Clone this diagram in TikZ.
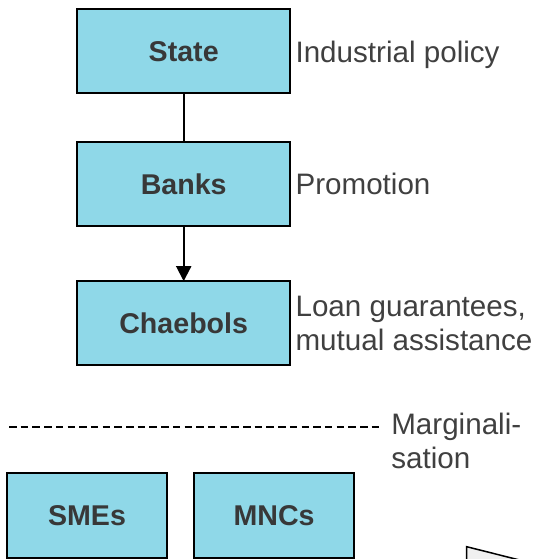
\documentclass[tikz,border=0pt]{standalone}
\usepackage{fontspec}
\setmainfont{Liberation Sans}
\usetikzlibrary{arrows.meta}
\usetikzlibrary{positioning}
\definecolor{boxcyan}{RGB}{143,216,232}
\definecolor{boxtext}{RGB}{56,56,56}
\definecolor{notetext}{RGB}{64,64,64}
\tikzset{
  org node/.style={
    rectangle,
    draw,
    line width=2pt,
    fill=boxcyan,
    minimum width=212.7pt,
    minimum height=84.3pt,
    inner sep=0pt,
    outer sep=0pt,
    font=\bfseries\fontsize{28.6}{34.3}\selectfont,
    text=boxtext,
  }
}
\tikzset{
  small org node/.style={
    org node,
    minimum width=159.5pt,
    minimum height=85pt,
  }
}
\tikzset{
  note node/.style={
    inner sep=0pt,
    outer sep=0pt,
    align=left,
    font=\fontsize{29.6}{34.3}\selectfont,
    text=notetext,
  }
}
\tikzset{
  split line/.style={
    line width=1.6pt,
    dash pattern=on 7.5pt off 4.2pt,
  }
}

\begin{document}
\begin{tikzpicture}[
    x=1pt, y=-1pt,
    >={Triangle[length=15pt,width=15pt]},
    ]
  \useasboundingbox (0,0) rectangle (533,559);

  \node[org node] (state) at (183.7,51.3) {State};
  \node[org node, below=48.4pt of state] (banks) {Banks};
  \node[org node, below=55pt of banks] (chaebols) {Chaebols};

  \node[small org node] (smes) at (87,515.2) {SMEs};
  \node[small org node, right=27.6pt of smes] (mncs) {MNCs};

  \draw[line width=2pt] (state) -- (banks);
  \draw[line width=2pt, ->] (banks) -- (chaebols);

  \node[note node, text depth=0pt, right=5.5pt of state] (policy) {Industrial policy};
  \node[note node, right=5.5pt of banks] (promo) {Promotion};
  \node[note node, right=5.5pt of chaebols] (loans)
    {Loan guarantees,\\mutual assistance};

  \coordinate (dashL) at (9,426.7);
  \coordinate (dashR) at (379.3,426.7);
  \draw[split line] (dashL) -- (dashR);
  \node[note node, right=12pt of dashR, anchor=north west, yshift=14pt]
    (margin) {Marginali-\\sation};

  % corner of a shape cut off by the page
  \begin{scope}
    \clip (0,0) rectangle (533,559);
    \draw[line width=1.5pt, fill=black!6]
      (466.7,546.7) -- (600,580.3) -- (466.7,580.3) -- cycle;
  \end{scope}

\end{tikzpicture}
\end{document}
